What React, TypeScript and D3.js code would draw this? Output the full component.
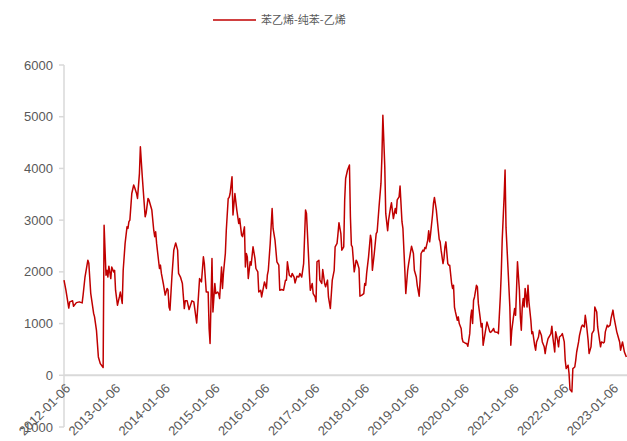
import React, { useRef, useEffect } from "react";
import * as d3 from "d3";

// weekly spread (week number counted from 2012-01-06, value)
const spread: [number, number][] = [
  [0,1840],[2,1645],[5,1300],[6,1420],[9,1440],[10,1335],[13,1405],[16,1420],[19,1400],[20,1550],
  [22,1900],[25,2225],[26,2165],[28,1585],[31,1200],[32,1130],[34,870],[36,355],[38,225],[41,150],
  [42,2900],[44,1935],[45,2030],[46,1900],[47,2110],[49,1870],[50,2095],[52,2000],[53,2030],[54,1645],
  [56,1355],[58,1515],[59,1610],[61,1390],[62,2030],[64,2550],[66,2870],[67,2840],[68,2970],[69,3000],
  [71,3515],[73,3680],[74,3630],[76,3515],[77,3420],[79,3900],[80,4420],[82,3840],[85,3065],[86,3130],
  [88,3420],[89,3390],[92,3195],[94,2805],[95,2680],[96,2775],[97,2550],[99,2225],[100,2065],[101,2130],
  [102,1970],[104,1775],[106,1550],[108,1680],[109,1645],[110,1320],[111,1260],[113,1900],[115,2420],[117,2560],
  [119,2420],[120,1970],[122,1900],[124,1775],[126,1290],[127,1440],[129,1440],[131,1270],[134,1440],[136,1420],
  [139,1010],[141,1580],[142,1870],[144,1805],[146,2290],[147,2160],[149,1610],[151,1610],[152,905],[153,615],
  [155,2260],[156,1225],[158,1775],[159,1580],[161,1610],[162,1580],[163,1485],[165,2095],[166,1680],[167,1970],
  [169,2355],[170,2805],[172,3420],[173,3440],[174,3515],[176,3840],[177,3100],[179,3515],[181,3195],[183,2935],
  [184,3030],[186,2710],[187,2680],[189,2870],[190,2095],[191,2355],[192,2290],[193,1870],[195,2195],[196,2130],
  [198,2485],[200,2260],[201,2065],[203,2000],[204,1610],[206,1645],[207,1515],[209,1710],[210,1805],[212,1680],
  [213,1935],[214,2030],[216,2550],[218,3225],[219,2840],[221,2615],[223,2195],[225,2130],[226,1645],[228,1660],
  [230,1645],[232,1840],[233,1840],[234,2195],[236,1935],[238,1900],[239,1970],[241,1900],[242,1785],[244,1915],
  [246,1900],[247,1970],[249,1900],[251,2160],[253,3195],[254,3130],[256,2355],[257,1970],[258,1645],[260,1775],
  [261,1580],[263,1515],[264,1420],[265,2195],[267,2225],[268,1840],[270,1775],[271,2045],[273,1775],[274,1710],
  [276,1840],[277,1515],[279,1290],[281,1840],[283,2030],[284,2485],[286,2550],[287,2740],[288,2950],[290,2740],
  [291,2420],[293,2485],[294,3390],[295,3805],[297,3970],[299,4065],[300,3065],[301,2515],[302,2485],[304,2000],
  [306,2225],[307,2195],[309,2065],[310,1530],[312,1550],[314,1580],[315,1775],[316,1740],[317,1970],[319,2290],
  [321,2710],[322,2615],[323,2030],[325,2355],[327,2740],[328,2775],[330,3260],[332,3710],[333,4225],[334,5030],
  [336,4030],[337,3130],[339,2795],[340,3000],[342,3240],[343,3335],[345,3030],[347,3225],[348,3130],[349,3390],
  [351,3450],[352,3660],[354,2970],[355,2840],[357,2030],[358,1580],[360,2030],[361,2160],[363,2385],[364,2495],
  [366,2355],[367,2030],[369,1900],[370,1740],[372,1530],[373,1840],[374,2355],[376,2420],[377,2400],[378,2470],
  [379,2450],[381,2615],[382,2795],[383,2580],[384,2740],[386,3100],[387,3325],[388,3440],[390,3195],[391,3000],
  [393,2630],[394,2580],[395,2420],[397,2160],[398,2260],[399,2485],[400,2580],[402,2160],[403,2130],[404,2130],
  [406,1775],[407,1680],[408,1740],[409,1320],[410,1225],[412,1065],[413,1130],[414,1000],[416,905],[417,710],
  [418,645],[420,625],[422,610],[423,560],[425,805],[426,1130],[427,1260],[428,1000],[429,1450],[430,1515],
  [432,1740],[433,1710],[434,1390],[436,1100],[437,935],[438,1000],[439,580],[441,805],[443,1030],[444,970],
  [446,840],[447,830],[448,850],[450,905],[451,840],[453,830],[454,830],[455,805],[457,1515],[458,1970],
  [459,2615],[461,3450],[462,3970],[463,2850],[465,2095],[467,1320],[468,580],[469,870],[471,1160],[472,1290],
  [473,1160],[474,1645],[475,2195],[477,1645],[478,1130],[479,870],[480,1320],[481,1485],[482,1320],[483,1680],
  [484,1545],[485,1320],[486,1740],[487,1420],[489,1065],[490,805],[491,840],[493,580],[494,485],[495,645],
  [497,740],[498,870],[500,775],[501,645],[503,550],[504,420],[505,550],[507,710],[508,740],[510,805],
  [511,950],[512,740],[514,450],[515,840],[517,675],[518,550],[519,740],[521,775],[522,805],[524,645],
  [525,290],[526,130],[528,195],[529,35],[530,-275],[532,-320],[533,130],[535,160],[536,290],[537,450],
  [539,645],[540,775],[542,935],[543,970],[545,935],[546,1160],[547,1030],[549,675],[550,420],[552,550],
  [553,805],[555,870],[556,1320],[558,1225],[559,935],[561,675],[562,550],[563,645],[565,625],[566,645],
  [567,840],[569,970],[570,935],[572,970],[573,1100],[575,1260],[576,1130],[578,935],[579,840],[580,775],
  [582,645],[583,485],[585,645],[586,550],[587,450],[589,355],
];

const yTicks = [-1000, 0, 1000, 2000, 3000, 4000, 5000, 6000];
const xTickLabels = [
  "2012-01-06", "2013-01-06", "2014-01-06", "2015-01-06", "2016-01-06", "2017-01-06",
  "2018-01-06", "2019-01-06", "2020-01-06", "2021-01-06", "2022-01-06", "2023-01-06",
];
const seriesName = "苯乙烯-纯苯-乙烯";
const startDate = "2012-01-06";

function App() {
  const svgRef = useRef<SVGSVGElement>(null);

  useEffect(() => {
    const width = 627,
      height = 441;
    const svg = d3.select(svgRef.current);
    svg.selectAll("*").remove();

    const parse = d3.utcParse("%Y-%m-%d");
    const t0 = parse(startDate) as Date;

    const x = d3
      .scaleUtc()
      .domain([t0, parse(xTickLabels[xTickLabels.length - 1]) as Date])
      .range([64, 612]);
    const y = d3.scaleLinear().domain([-1000, 6000]).range([427, 65]);

    const gray = "#d9d9d9";
    const textColor = "#595959";
    const font = "Liberation Sans, Arial, sans-serif";

    // y axis
    svg
      .append("line")
      .attr("x1", x(t0))
      .attr("x2", x(t0))
      .attr("y1", y(6000))
      .attr("y2", y(-1000))
      .attr("stroke", gray)
      .attr("stroke-width", 1.5);

    svg
      .selectAll(".ytick")
      .data(yTicks)
      .join("line")
      .attr("class", "ytick")
      .attr("x1", x(t0) - 5)
      .attr("x2", x(t0))
      .attr("y1", (d) => y(d))
      .attr("y2", (d) => y(d))
      .attr("stroke", gray)
      .attr("stroke-width", 1.5);

    svg
      .selectAll(".ylabel")
      .data(yTicks)
      .join("text")
      .attr("class", "ylabel")
      .attr("x", 53)
      .attr("y", (d) => y(d))
      .attr("dy", "0.35em")
      .attr("text-anchor", "end")
      .attr("font-family", font)
      .attr("font-size", 13)
      .attr("fill", textColor)
      .text((d) => d);

    // zero line (category axis)
    svg
      .append("line")
      .attr("x1", x(t0))
      .attr("x2", width)
      .attr("y1", y(0))
      .attr("y2", y(0))
      .attr("stroke", gray)
      .attr("stroke-width", 2);

    // x labels, rotated
    svg
      .selectAll(".xlabel")
      .data(xTickLabels)
      .join("text")
      .attr("class", "xlabel")
      .attr("transform", (d) => {
        const px = x(parse(d) as Date);
        return "translate(" + (px + 4) + "," + 386 + ") rotate(-45)";
      })
      .attr("dy", "0.35em")
      .attr("text-anchor", "end")
      .attr("font-family", font)
      .attr("font-size", 13)
      .attr("fill", textColor)
      .text((d) => d);

    // series line
    const line = d3
      .line<[number, number]>()
      .x((d) => x(d3.utcDay.offset(t0, d[0] * 7)))
      .y((d) => y(d[1]));

    svg
      .append("path")
      .datum(spread)
      .attr("d", line)
      .attr("fill", "none")
      .attr("stroke", "#c00000")
      .attr("stroke-width", 1.5)
      .attr("stroke-linejoin", "round");

    // legend
    svg
      .append("line")
      .attr("x1", 213)
      .attr("x2", 256)
      .attr("y1", 20)
      .attr("y2", 20)
      .attr("stroke", "#c00000")
      .attr("stroke-width", 1.5);
    svg
      .append("text")
      .attr("x", 261)
      .attr("y", 20)
      .attr("dy", "0.35em")
      .attr("font-family", "Noto Sans CJK SC, sans-serif")
      .attr("font-size", 11)
      .attr("fill", textColor)
      .text(seriesName);

    svg.attr("width", width).attr("height", height);
  }, []);

  return (
    <svg
      ref={svgRef}
      width={627}
      height={441}
      style={{ position: "absolute", left: 0, top: 0, background: "#fff" }}
    ></svg>
  );
}

export default App;
